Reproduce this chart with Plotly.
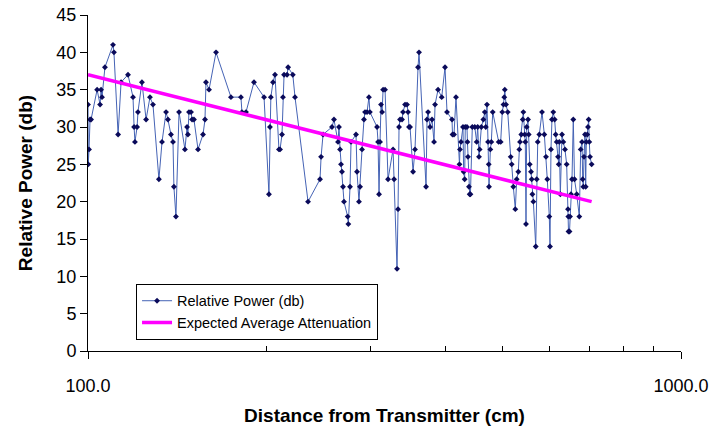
import plotly.graph_objects as go

# Measured received power along the corridor
distance_cm = [
    100.0, 100.1, 100.4, 100.8, 101.2, 103.6, 104.8, 105.2, 105.6, 106.8,
    110.2, 110.6, 112.4, 113.7, 116.8, 119.1, 119.6, 120.0, 121.0, 121.4,
    123.3, 125.3, 127.2, 128.7, 131.7, 133.3, 135.4, 136.4, 138.0, 139.1,
    139.6, 140.7, 142.4, 145.7, 146.9, 147.4, 148.0, 149.2, 149.8, 150.9,
    153.3, 156.3,
    157.5, 158.1, 160.0, 164.4, 174.2, 181.1, 181.8, 184.7, 190.5, 198.1,
    201.9, 202.7, 203.4, 205.1, 206.7, 209.9, 210.8, 212.4, 213.2, 214.1,
    216.6, 217.5, 221.5, 223.4, 235.0,
    246.2, 247.2, 249.1, 257.9, 259.9, 264.0, 265.0, 266.1, 267.1, 268.1,
    269.2, 270.2, 274.1, 274.8, 276.6, 277.7, 283.1, 284.2, 286.4, 287.6,
    289.8, 292.0, 293.2, 295.5, 297.7, 298.8, 307.2, 308.4, 309.6, 310.8,
    312.0, 313.3, 314.5, 316.9, 320.6, 326.9, 328.2, 332.0, 333.3, 334.6,
    335.9, 338.5, 339.8, 342.5, 345.1, 346.5, 347.8, 349.2, 353.3, 356.0,
    360.2, 361.6,
    371.6, 373.0, 374.5, 377.4, 380.3, 383.3, 384.8, 389.3, 394.9, 400.0,
    403.1, 411.0, 411.8, 414.2, 417.4, 423.1, 423.9, 425.6, 428.9, 430.0,
    431.7, 432.7, 435.6, 436.4, 437.3, 439.0, 440.2, 441.5, 444.7, 449.0,
    452.3, 454.1, 456.4, 457.6, 460.6, 464.2, 466.8, 468.6, 470.8, 472.7,
    474.0, 474.5, 477.0, 478.8, 481.4, 492.7, 496.5,
    499.6, 501.9, 503.5, 504.5, 506.9, 510.3, 516.2, 518.2, 521.5, 525.5,
    528.4, 531.7, 533.8, 535.2, 537.9, 540.9, 542.2, 545.1, 546.3, 547.8,
    549.3, 552.1, 553.6, 555.8, 558.6, 560.1, 561.5, 563.7, 568.9, 571.1,
    573.3, 576.9, 582.9, 588.2, 592.0, 595.0, 599.7, 601.3, 603.6, 605.9,
    609.0, 612.3, 614.7, 617.1, 620.3, 622.0, 623.4, 625.9, 630.0, 633.2,
    637.3, 641.5, 644.8, 645.6, 646.1, 648.6, 649.9, 652.4, 654.9, 658.2,
    661.3, 667.0, 673.8, 677.4, 680.9, 682.7, 684.3, 686.2, 688.8, 690.7,
    692.3, 695.0, 696.9, 698.7, 700.4, 702.3, 706.8,
]

relative_power_db = [
    33, 25, 27, 31, 31, 35, 33, 35, 34, 38,
    41, 40, 29, 36, 37, 34, 30, 28, 30, 32,
    36, 31, 34, 33, 23, 28, 32, 31, 29, 28,
    22, 18, 32, 27, 30, 29, 32, 32, 31, 31,
    27, 29,
    31, 36, 35, 40, 34, 34, 32, 32, 36, 34,
    21, 30, 34, 36, 37, 27, 27, 29, 34, 37,
    37, 38, 37, 34, 20,
    23, 26, 29, 30, 31, 28, 30, 27, 25, 24,
    22, 20, 18, 17, 22, 28, 29, 24, 20, 22,
    27, 31, 32, 32, 34, 32, 30, 28, 21, 28,
    33, 32, 35, 35, 23, 27, 23, 11, 19, 30,
    31, 31, 32, 33, 33, 32, 30, 30, 24, 27,
    38, 40,
    22, 31, 32, 30, 31, 28, 33, 35, 34, 38,
    32, 31, 29, 29, 34, 25, 27, 28, 30, 24,
    23, 30, 30, 28, 26, 22, 21, 21, 30, 30,
    28, 30, 26, 27, 30, 31, 32, 30, 33, 28,
    25, 22, 27, 28, 32, 28, 28,
    32, 33, 34, 35, 33, 32, 26, 25, 22, 19,
    23, 24, 27, 28, 29, 31, 32, 29, 28, 17,
    30, 31, 29, 25, 24, 23, 21, 20, 14, 23,
    28, 29, 32, 29, 26, 23, 18, 14, 27, 31,
    32, 31, 29, 28, 26, 25, 28, 21, 29, 28,
    27, 25, 19, 18, 16, 16, 18, 21, 23, 31,
    23, 21, 18, 27, 28, 23, 22, 26, 29, 22,
    28, 29, 30, 31, 28, 26, 25,
]

# Expected average attenuation (straight line on the log distance axis)
attenuation_cm = [100.0, 706.8]
attenuation_db = [37.0, 20.0]

x_tick_values = [100, 1000]
x_tick_labels = ["100.0", "1000.0"]
x_minor_values = [200, 300, 400, 500, 600, 700, 800, 900]

FONT = "Arial, 'Liberation Sans', sans-serif"

fig = go.Figure()

fig.add_trace(go.Scatter(
    x=distance_cm, y=relative_power_db,
    mode="lines+markers",
    name="Relative Power (db)",
    line=dict(color="#4563b5", width=1),
    marker=dict(symbol="diamond", size=4.5, color="#0a0a5a"),
))

fig.add_trace(go.Scatter(
    x=attenuation_cm, y=attenuation_db,
    mode="lines",
    name="Expected Average Attenuation",
    line=dict(color="#ff00ff", width=3.5),
))

fig.update_layout(
    width=722, height=429,
    margin=dict(l=88, r=41, t=15, b=78),
    paper_bgcolor="white", plot_bgcolor="white",
    font=dict(family=FONT, color="black", size=18),
    showlegend=True,
    legend=dict(
        x=0.081, y=0.2, xanchor="left", yanchor="top",
        bgcolor="white", bordercolor="black", borderwidth=1,
        font=dict(family=FONT, size=14.5, color="black"),
        tracegroupgap=0, itemwidth=30,
    ),
)

fig.update_xaxes(
    type="log", range=[2, 3],
    automargin=False,
    tickvals=x_tick_values, ticktext=x_tick_labels,
    tickfont=dict(size=18),
    ticks="outside", ticklen=7, tickcolor="black",
    ticklabelstandoff=11,
    showline=True, linecolor="black", linewidth=1,
    showgrid=False, zeroline=False,
    minor=dict(tickvals=x_minor_values, ticks="inside", ticklen=5,
               tickcolor="black", showgrid=False),
    title=dict(text="<b>Distance from Transmitter (cm)</b>",
               font=dict(family=FONT, size=19), standoff=14),
)

fig.update_yaxes(
    range=[0, 45], dtick=5,
    automargin=False,
    tickfont=dict(size=18),
    ticks="outside", ticklen=7, tickcolor="black",
    showline=True, linecolor="black", linewidth=1,
    showgrid=False, zeroline=False,
    title=dict(text="<b>Relative Power (db)</b>",
               font=dict(family=FONT, size=19), standoff=18),
)

fig.write_html("out.html")
